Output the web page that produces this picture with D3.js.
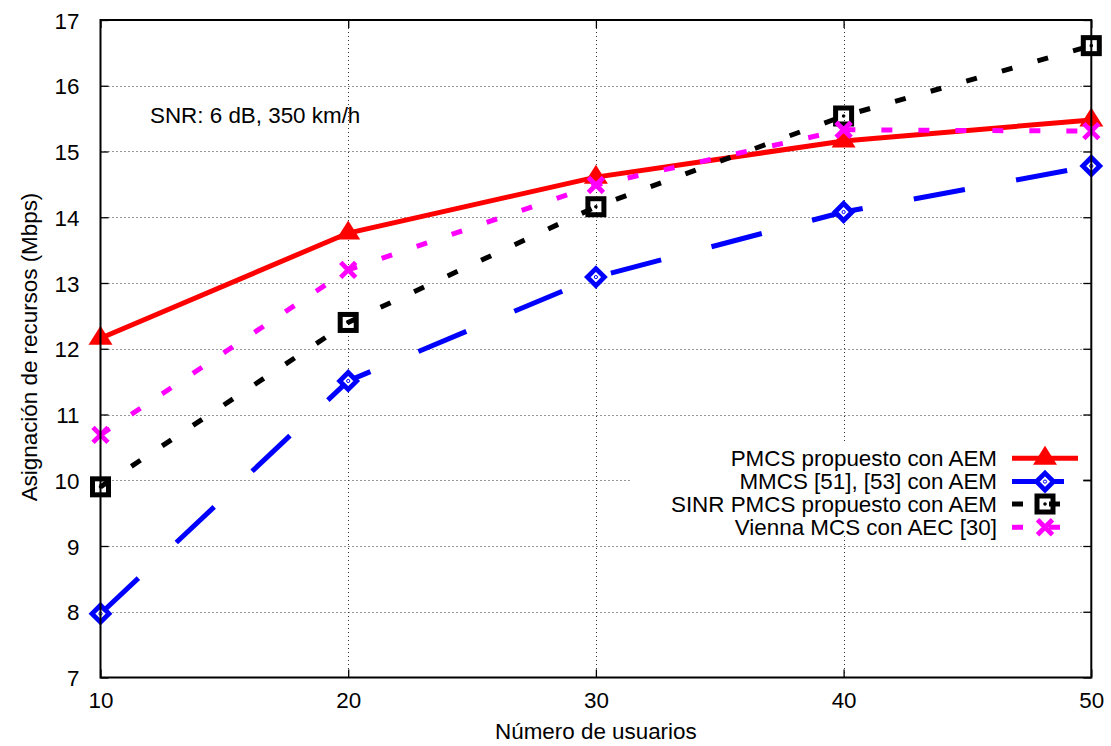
<!DOCTYPE html>
<html>
<head>
<meta charset="utf-8">
<script src="https://cdn.jsdelivr.net/npm/d3@7"></script>
<style>
  body { margin: 0; background: #fff; }
  svg { display: block; }
  text { font-family: "Liberation Sans", Arial, Helvetica, sans-serif; fill: #000; }
</style>
</head>
<body>
<svg id="chart" width="1111" height="746"></svg>
<script>
// Número de usuarios
const users = [10, 20, 30, 40, 50];
// Asignación de recursos (Mbps) per scheme
const pmcsAem     = [12.16, 13.76, 14.61, 15.16, 15.48];
const mmcsAem     = [7.97, 11.51, 13.09, 14.08, 14.78];
const sinrPmcsAem = [9.90, 12.40, 14.16, 15.54, 16.61];
const viennaAec   = [10.69, 13.20, 14.49, 15.33, 15.31];

const seriesNames = [
  "PMCS propuesto con AEM",
  "MMCS [51], [53] con AEM",
  "SINR PMCS propuesto con AEM",
  "Vienna MCS con AEC [30]"
];
const xTicks = [10, 20, 30, 40, 50];
const yTicks = [7, 8, 9, 10, 11, 12, 13, 14, 15, 16, 17];
const annotation = "SNR: 6 dB, 350 km/h";
const xTitle = "Número de usuarios";
const yTitle = "Asignación de recursos (Mbps)";

const series = [
  { name: seriesNames[0], values: pmcsAem,     color: "#ff0000", dash: null,    marker: "triangle" },
  { name: seriesNames[1], values: mmcsAem,     color: "#0000ff", dash: "52,52", marker: "diamond" },
  { name: seriesNames[2], values: sinrPmcsAem, color: "#000000", dash: "11,26", marker: "square" },
  { name: seriesNames[3], values: viennaAec,   color: "#ff00ff", dash: "11,26", marker: "cross" }
];

const FONT = 22.4;
const svg = d3.select("#chart");
const plot = { left: 100.5, right: 1091.3, top: 20, bottom: 677.5 };

const x = d3.scaleLinear().domain([10, 50]).range([plot.left, plot.right]);
const y = d3.scaleLinear().domain([7, 17]).range([plot.bottom, plot.top]);

// Dotted grid
const grid = svg.append("g").attr("stroke", "#333").attr("stroke-width", 1)
  .attr("stroke-dasharray", "1,3");
grid.selectAll(".gy").data(yTicks.slice(1, -1)).join("line")
  .attr("x1", plot.left).attr("x2", plot.right)
  .attr("y1", d => Math.round(y(d)) + 0.5).attr("y2", d => Math.round(y(d)) + 0.5);
grid.selectAll(".gx").data(xTicks.slice(1, -1)).join("line")
  .attr("y1", plot.top).attr("y2", plot.bottom)
  .attr("x1", d => Math.round(x(d)) + 0.5).attr("x2", d => Math.round(x(d)) + 0.5);

// Axes with inward ticks on all four sides
const tickLen = 8;
const axLeft = d3.axisLeft(y).tickValues(yTicks).tickSize(-tickLen).tickPadding(tickLen + 13);
const axRight = d3.axisRight(y).tickValues(yTicks).tickSize(-tickLen).tickFormat("");
const axBottom = d3.axisBottom(x).tickValues(xTicks).tickSize(-tickLen).tickPadding(tickLen + 7);
const axTop = d3.axisTop(x).tickValues(xTicks).tickSize(-tickLen).tickFormat("");

function styleAxis(g) {
  g.select(".domain").remove();
  g.selectAll(".tick line").attr("stroke", "#000").attr("stroke-width", 1.3);
  g.selectAll(".tick text").attr("font-size", FONT)
    .attr("font-family", '"Liberation Sans", Arial, sans-serif').attr("fill", "#000");
}
svg.append("g").attr("transform", `translate(${plot.left},0)`).call(axLeft).call(styleAxis)
  .selectAll(".tick text").attr("dy", "0.36em");
svg.append("g").attr("transform", `translate(${plot.right},0)`).call(axRight).call(styleAxis);
svg.append("g").attr("transform", `translate(0,${plot.bottom})`).call(axBottom).call(styleAxis)
  .selectAll(".tick text").attr("dy", "0.71em");
svg.append("g").attr("transform", `translate(0,${plot.top})`).call(axTop).call(styleAxis);

// Series lines and point markers
const line = d3.line().x((d, i) => x(users[i])).y(d => y(d));

function drawMarker(g, type, color, cx, cy) {
  if (type === "triangle") {
    g.append("path")
      .attr("d", `M${cx},${cy - 12.5}L${cx + 12},${cy + 6.5}L${cx - 12},${cy + 6.5}Z`)
      .attr("fill", color);
  } else if (type === "diamond") {
    g.append("path")
      .attr("d", `M${cx},${cy - 8.5}L${cx + 8.5},${cy}L${cx},${cy + 8.5}L${cx - 8.5},${cy}Z`)
      .attr("fill", "#fff").attr("stroke", color).attr("stroke-width", 4.8)
      .attr("stroke-linejoin", "miter");
    g.append("circle").attr("cx", cx).attr("cy", cy).attr("r", 1.6)
      .attr("fill", "none").attr("stroke", color).attr("stroke-width", 1);
  } else if (type === "square") {
    g.append("rect").attr("x", cx - 8).attr("y", cy - 8).attr("width", 16).attr("height", 16)
      .attr("fill", "none").attr("stroke", color).attr("stroke-width", 5);
    g.append("circle").attr("cx", cx).attr("cy", cy).attr("r", 1.8).attr("fill", color);
  } else if (type === "cross") {
    g.append("path")
      .attr("d", `M${cx - 7.5},${cy - 7.5}L${cx + 7.5},${cy + 7.5}M${cx + 7.5},${cy - 7.5}L${cx - 7.5},${cy + 7.5}`)
      .attr("stroke", color).attr("stroke-width", 4.8).attr("fill", "none");
  }
}

series.forEach(s => {
  const g = svg.append("g");
  g.append("path").datum(s.values).attr("d", line)
    .attr("fill", "none").attr("stroke", s.color).attr("stroke-width", 5)
    .attr("stroke-dasharray", s.dash).attr("stroke-linejoin", "miter");
  s.values.forEach((v, i) => drawMarker(g, s.marker, s.color, x(users[i]), y(v)));
});

// Frame
svg.append("rect")
  .attr("x", plot.left).attr("y", plot.top)
  .attr("width", plot.right - plot.left).attr("height", plot.bottom - plot.top)
  .attr("fill", "none").attr("stroke", "#000").attr("stroke-width", 2);

// Annotation
svg.append("text").attr("x", 150).attr("y", 123).attr("font-size", FONT).text(annotation);

// Legend
const legend = svg.append("g");
legend.append("rect").attr("x", 630).attr("y", 443).attr("width", 453).attr("height", 90)
  .attr("fill", "#fff");
const rowBase = [466, 489.3, 511.7, 535];
series.forEach((s, i) => {
  const by = rowBase[i];
  const ly = by - 7.7;
  legend.append("text").attr("x", 997).attr("y", by).attr("text-anchor", "end")
    .attr("font-size", FONT).text(s.name);
  legend.append("line").attr("x1", 1012).attr("x2", 1078).attr("y1", ly).attr("y2", ly)
    .attr("stroke", s.color).attr("stroke-width", 5).attr("stroke-dasharray", s.dash);
  drawMarker(legend, s.marker, s.color, 1045, ly);
});
// right tick at 10 sits under the legend box, so it is drawn again on top
legend.append("line").attr("x1", plot.right - tickLen).attr("x2", plot.right)
  .attr("y1", y(10)).attr("y2", y(10)).attr("stroke", "#000").attr("stroke-width", 1.3);

// Axis titles
svg.append("text").attr("x", (plot.left + plot.right) / 2).attr("y", 739)
  .attr("text-anchor", "middle").attr("font-size", FONT).text(xTitle);
svg.append("text").attr("transform", "translate(37,347) rotate(-90)")
  .attr("text-anchor", "middle").attr("font-size", FONT).text(yTitle);
</script>
</body>
</html>
